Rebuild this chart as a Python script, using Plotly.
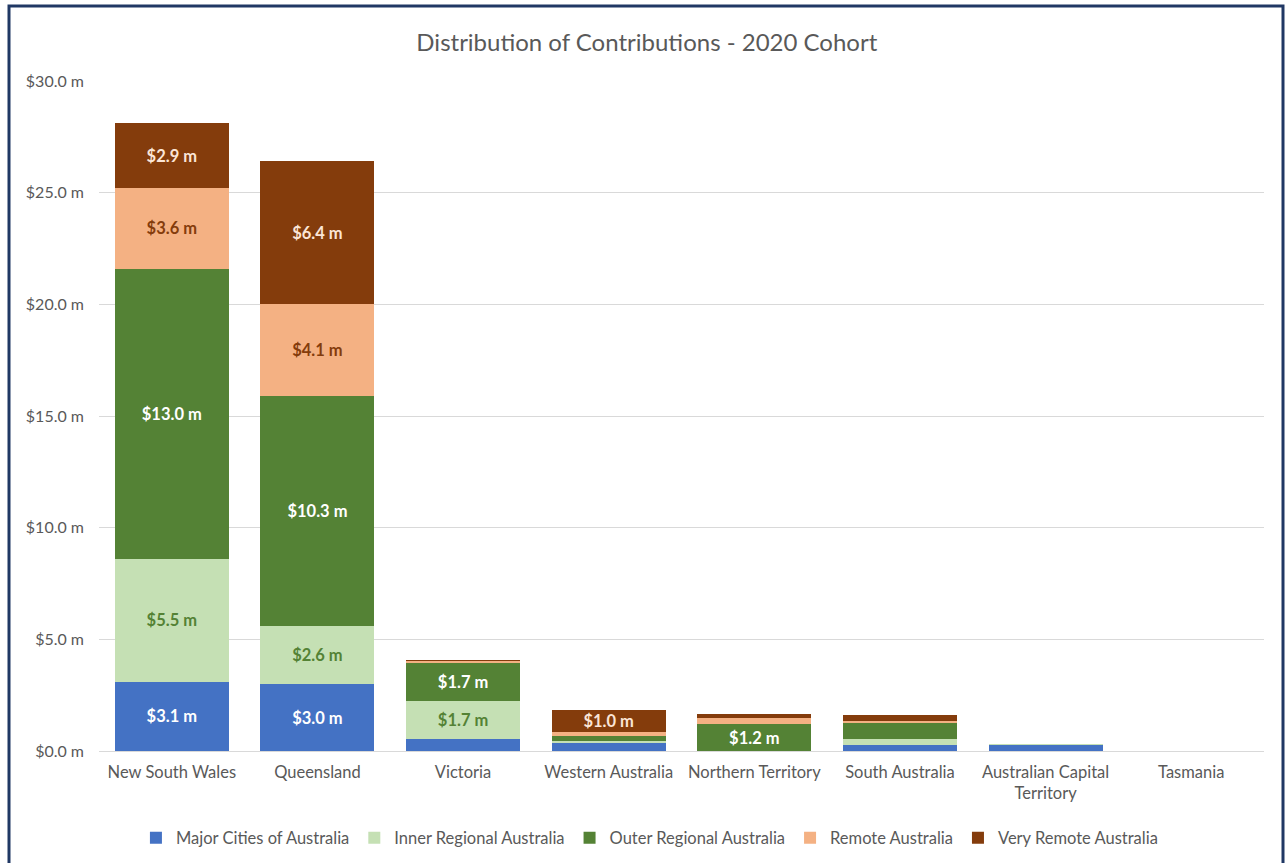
import plotly.graph_objects as go

states = ["New South Wales", "Queensland", "Victoria", "Western Australia",
          "Northern Territory", "South Australia", "Australian Capital<br>Territory", "Tasmania"]

major = [3.1, 3.0, 0.55, 0.4, 0.0, 0.27, 0.27, 0.0]
inner = [5.5, 2.6, 1.7, 0.05, 0.0, 0.27, 0.02, 0.0]
outer = [13.0, 10.3, 1.7, 0.2, 1.2, 0.7, 0.0, 0.0]
remote = [3.6, 4.1, 0.08, 0.2, 0.27, 0.12, 0.0, 0.0]
very_remote = [2.9, 6.4, 0.02, 1.0, 0.18, 0.25, 0.0, 0.0]

labels_major = ["$3.1 m", "$3.0 m", "", "", "", "", "", ""]
labels_inner = ["$5.5 m", "$2.6 m", "$1.7 m", "", "", "", "", ""]
labels_outer = ["$13.0 m", "$10.3 m", "$1.7 m", "", "$1.2 m", "", "", ""]
labels_remote = ["$3.6 m", "$4.1 m", "", "", "", "", "", ""]
labels_very = ["$2.9 m", "$6.4 m", "", "$1.0 m", "", "", "", ""]

series = [
    ("Major Cities of Australia", major, labels_major, "#4472c4", "#ffffff"),
    ("Inner Regional Australia", inner, labels_inner, "#c5e0b4", "#548235"),
    ("Outer Regional Australia", outer, labels_outer, "#548235", "#ffffff"),
    ("Remote Australia", remote, labels_remote, "#f4b183", "#843c0c"),
    ("Very Remote Australia", very_remote, labels_very, "#843c0c", "#fbe5d6"),
]

y_ticks = [0, 5, 10, 15, 20, 25, 30]
y_ticktext = [f"${v:.1f} m" for v in y_ticks]

FONT = "Lato, 'Open Sans', sans-serif"

fig = go.Figure()
for name, vals, labs, color, tcolor in series:
    fig.add_trace(go.Bar(
        name=name, x=states, y=vals, text=labs,
        textposition="inside", insidetextanchor="middle",
        textfont=dict(family=FONT, size=16.5, color=tcolor, weight="bold"),
        marker=dict(color=color, line=dict(width=0)),
        hoverinfo="skip", constraintext="none",
    ))

fig.update_layout(
    width=1286, height=863,
    barmode="stack", bargap=0.217,
    paper_bgcolor="white", plot_bgcolor="white",
    margin=dict(l=99, r=22, t=81, b=112),
    font=dict(family=FONT, color="#595959"),
    title=dict(text="Distribution of Contributions - 2020 Cohort",
               x=0.503, xanchor="center", xref="container",
               y=1 - 43 / 863, yanchor="middle", yref="container",
               font=dict(size=24, color="#595959", family=FONT)),
    legend=dict(orientation="h", x=0.505, xanchor="center", xref="container",
                y=1 - 838 / 863, yanchor="middle", yref="container",
                font=dict(size=16.5, color="#595959", family=FONT),
                traceorder="normal", itemwidth=30),
    showlegend=True,
)
fig.update_xaxes(showgrid=False, showline=True, linecolor="#d9d9d9", linewidth=1,
                 tickfont=dict(size=16.5, color="#595959"), ticks="",
                 ticklabelstandoff=6)
fig.update_yaxes(range=[0, 30], tickvals=y_ticks, ticktext=y_ticktext,
                 showgrid=True, gridcolor="#d9d9d9", gridwidth=1,
                 zeroline=False, tickfont=dict(size=16, color="#595959"),
                 ticks="", ticklabelstandoff=14)

# outer frame
fig.add_shape(type="rect", xref="paper", yref="paper",
              x0=(9 - 99) / 1165, x1=(1283 - 99) / 1165,
              y0=(751 - 880) / 670, y1=(751 - 6) / 670,
              line=dict(color="#203864", width=3), fillcolor="rgba(0,0,0,0)",
              layer="above")

fig.write_html("out.html")
